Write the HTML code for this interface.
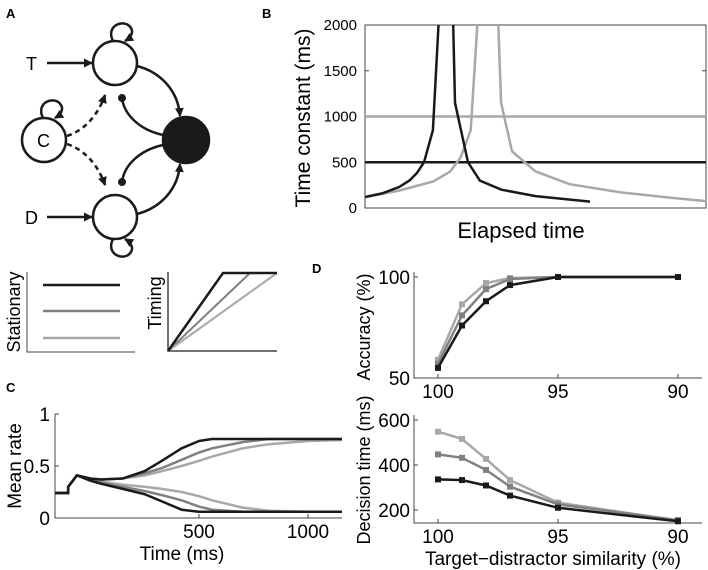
<!DOCTYPE html>
<html><head><meta charset="utf-8"><style>
html,body{margin:0;padding:0;background:#fff;}
svg{display:block;font-family:"Liberation Sans",sans-serif;}
</style></head><body>
<svg id="fig" width="708" height="570" viewBox="0 0 708 570">
<defs>
<marker id="ah" markerWidth="9" markerHeight="9" refX="8" refY="4.5" orient="auto" markerUnits="userSpaceOnUse"><path d="M0,0 L9,4.5 L0,9 Z" fill="#1a1a1a"/></marker>
<marker id="dot" markerWidth="9" markerHeight="9" refX="4.5" refY="4.5" orient="auto" markerUnits="userSpaceOnUse"><circle cx="4.5" cy="4.5" r="4" fill="#1a1a1a"/></marker>
<clipPath id="clipB"><rect x="365" y="25" width="341" height="183"/></clipPath>
</defs>
<text x="6" y="18" font-size="13" font-weight="bold">A</text>
<text x="262" y="18" font-size="13" font-weight="bold">B</text>
<text x="6" y="392" font-size="13" font-weight="bold">C</text>
<text x="312" y="273" font-size="13" font-weight="bold">D</text>

<g stroke="#1a1a1a" stroke-width="2.5" fill="none">
<circle cx="115" cy="63" r="22" fill="#fff"/>
<circle cx="115" cy="217" r="22" fill="#fff"/>
<circle cx="44" cy="140" r="22" fill="#fff"/>
<circle cx="186" cy="140" r="23" fill="#1a1a1a"/>
<path d="M113,41 C105,25 125,18 131,28 C134,33 130,38 125,41" marker-end="url(#ah)"/>
<path d="M113,239 C105,255 125,262 131,252 C134,247 130,242 125,239" marker-end="url(#ah)"/>
<path d="M43,118 C35,102 55,95 61,105 C64,110 60,115 55,118" marker-end="url(#ah)"/>
<line x1="47" y1="63" x2="92" y2="63" marker-end="url(#ah)"/>
<line x1="47" y1="217" x2="92" y2="217" marker-end="url(#ah)"/>
<path d="M137,66 C160,72 178,90 180,116" marker-end="url(#ah)"/>
<path d="M137,214 C160,208 178,190 180,164" marker-end="url(#ah)"/>
<path d="M163,135 C140,130 124,115 122,98" marker-end="url(#dot)"/>
<path d="M163,145 C140,150 124,165 122,182" marker-end="url(#dot)"/>
<path d="M67,136 C85,130 98,115 105,95" stroke-dasharray="5,4" marker-end="url(#ah)"/>
<path d="M67,144 C85,150 98,165 105,185" stroke-dasharray="5,4" marker-end="url(#ah)"/>
</g>
<text x="26" y="70" font-size="18">T</text>
<text x="25" y="224" font-size="18">D</text>
<text x="37" y="147" font-size="18">C</text>

<g>
<polyline points="27,272 27,352 135,352" fill="none" stroke="#444" stroke-width="1"/>
<line x1="43" y1="285" x2="120" y2="285" stroke="#1a1a1a" stroke-width="2.5"/>
<line x1="43" y1="311" x2="120" y2="311" stroke="#808080" stroke-width="2.5"/>
<line x1="43" y1="338" x2="120" y2="338" stroke="#a8a8a8" stroke-width="2.5"/>
<text transform="translate(20,312) rotate(-90)" text-anchor="middle" font-size="18">Stationary</text>
</g>
<g>
<polyline points="168,272 168,351 277,351" fill="none" stroke="#444" stroke-width="1.5"/>
<polyline points="168,351 250,273 277,273" fill="none" stroke="#808080" stroke-width="2"/>
<polyline points="168,351 277,273" fill="none" stroke="#a8a8a8" stroke-width="2"/>
<polyline points="168,351 223,273 277,273" fill="none" stroke="#1a1a1a" stroke-width="2.5"/>
<text transform="translate(161,303) rotate(-90)" text-anchor="middle" font-size="18">Timing</text>
</g>

<g id="panelB"></g>
<g id="panelC"></g>
<g id="panelD"></g>
<g id="panelE"></g>
</svg>
<script>
// ---- Panel B data ----
const bTicks = [0, 500, 1000, 1500, 2000];
const bBlackT = [0, 5, 10, 13, 15.2, 17.3, 19.9, 21.7, 25.8, 26.4, 30.2, 33.7, 40, 50, 66];
const bBlackV = [120, 160, 230, 300, 380, 500, 850, 2100, 2100, 1150, 500, 300, 200, 130, 70];
const bGrayT = [0, 10, 20, 25, 28, 31, 33.1, 39, 39.9, 43.1, 50, 60, 75, 90, 100];
const bGrayV = [120, 190, 290, 400, 550, 850, 2100, 2100, 1150, 620, 400, 260, 170, 110, 75];
const bRefLevels = [1000, 500];
// ---- Panel C data ----
const cTimes = [-160, -100, -100, -60, 0, 50, 150, 250, 330, 420, 500, 560, 700, 820, 1000, 1156];
const cUpBlack = [0.24, 0.24, 0.3, 0.41, 0.38, 0.37, 0.38, 0.45, 0.55, 0.67, 0.74, 0.76, 0.76, 0.76, 0.76, 0.76];
const cUpMid = [0.24, 0.24, 0.3, 0.41, 0.38, 0.37, 0.38, 0.43, 0.48, 0.56, 0.63, 0.67, 0.73, 0.76, 0.76, 0.76];
const cUpLight = [0.24, 0.24, 0.3, 0.41, 0.38, 0.37, 0.38, 0.41, 0.45, 0.5, 0.55, 0.59, 0.67, 0.71, 0.74, 0.75];
const cLowBlack = [0.24, 0.24, 0.3, 0.41, 0.36, 0.33, 0.28, 0.23, 0.16, 0.08, 0.06, 0.06, 0.06, 0.06, 0.06, 0.06];
const cLowMid = [0.24, 0.24, 0.3, 0.41, 0.37, 0.34, 0.3, 0.26, 0.22, 0.17, 0.11, 0.08, 0.06, 0.06, 0.06, 0.06];
const cLowLight = [0.24, 0.24, 0.3, 0.41, 0.37, 0.35, 0.32, 0.3, 0.28, 0.25, 0.21, 0.17, 0.1, 0.07, 0.06, 0.06];
const cXTicks = [500, 1000];
const cYTicks = [0, 0.5, 1];
const cYTickLabels = ["0", "0.5", "1"];
// ---- Panel D data ----
const dSim = [100, 99, 98, 97, 95, 90];
const accLight = [59, 86.5, 97, 99.5, 100, 100];
const accMid = [57, 81, 94, 99, 100, 100];
const accBlack = [55, 76, 88, 96, 100, 100];
const dtLight = [548, 516, 427, 333, 233, 153];
const dtMid = [447, 432, 378, 304, 225, 155];
const dtBlack = [336, 333, 309, 264, 210, 150];
const dXTicks = [100, 95, 90];
const accTicks = [50, 100];
const dtTicks = [200, 400, 600];

const NS = "http://www.w3.org/2000/svg";
function mk(parent, tag, attrs, text) {
  const e = document.createElementNS(NS, tag);
  for (const k in attrs) e.setAttribute(k, attrs[k]);
  if (text !== undefined) e.textContent = text;
  parent.appendChild(e);
  return e;
}
function pathFrom(xs, ys, sx, sy) {
  return xs.map((x, i) => (i ? "L" : "M") + sx(x).toFixed(1) + "," + sy(ys[i]).toFixed(1)).join(" ");
}
const BLACK = "#1a1a1a", MID = "#808080", LIGHT = "#a8a8a8";

(function () {
  const g = document.getElementById("panelB");
  const sx = t => 365 + t * 3.41, sy = v => 208 - v * 183 / 2000;
  const r = mk(g, "rect", {x: 365, y: 25, width: 341, height: 183, fill: "none", stroke: "#444", "stroke-width": 1});
  
  
  bTicks.forEach(v => {
    mk(g, "line", {x1: 365, x2: 369, y1: sy(v), y2: sy(v), stroke: "#444"});
    mk(g, "line", {x1: 702, x2: 706, y1: sy(v), y2: sy(v), stroke: "#444"});
    const t = mk(g, "text", {x: 357, y: sy(v) + 5, "text-anchor": "end", "font-size": 15}, String(v));
    
    
  });
  const colors = [LIGHT, BLACK];
  bRefLevels.forEach((v, i) => {
    const l = mk(g, "line", {x1: 365, x2: 706, y1: sy(v), y2: sy(v), stroke: colors[i], "stroke-width": 2.5});
    
    
  });
  const cg = mk(g, "g", {"clip-path": "url(#clipB)"});
  const p1 = mk(cg, "path", {d: pathFrom(bGrayT, bGrayV, sx, sy), fill: "none", stroke: LIGHT, "stroke-width": 2.5});
  
  
  const p2 = mk(cg, "path", {d: pathFrom(bBlackT, bBlackV, sx, sy), fill: "none", stroke: BLACK, "stroke-width": 2.5});
  
  
  const yl = mk(g, "text", {transform: "translate(310,118) rotate(-90)", "text-anchor": "middle", "font-size": 21}, "Time constant (ms)");
  
  
  const xl = mk(g, "text", {x: 521, y: 238, "text-anchor": "middle", "font-size": 22}, "Elapsed time");
  
  
})();

(function () {
  const g = document.getElementById("panelC");
  const sx = t => 199 + (t - 500) * 0.218, sy = v => 518 - v * 104;
  mk(g, "polyline", {points: "55,414 55,518 342,518", fill: "none", stroke: "#444", "stroke-width": 1});
  cYTicks.forEach((v, i) => {
    mk(g, "line", {x1: 55, x2: 59, y1: sy(v), y2: sy(v), stroke: "#444"});
    const t = mk(g, "text", {x: 50, y: sy(v) + 7, "text-anchor": "end", "font-size": 19}, cYTickLabels[i]);
    
    
  });
  cXTicks.forEach(v => {
    mk(g, "line", {x1: sx(v), x2: sx(v), y1: 518, y2: 514, stroke: "#444"});
    const t = mk(g, "text", {x: sx(v), y: 538, "text-anchor": "middle", "font-size": 19}, String(v));
    
    
  });
  const series = [[cUpLight, LIGHT], [cLowLight, LIGHT], [cUpMid, MID], [cLowMid, MID], [cUpBlack, BLACK], [cLowBlack, BLACK]];
  series.forEach(s => {
    const p = mk(g, "path", {d: pathFrom(cTimes, s[0], sx, sy), fill: "none", stroke: s[1], "stroke-width": 2.5, "stroke-linejoin": "round"});
    
    
  });
  const yl = mk(g, "text", {transform: "translate(21,466) rotate(-90)", "text-anchor": "middle", "font-size": 19}, "Mean rate");
  
  
  const xl = mk(g, "text", {x: 182, y: 560, "text-anchor": "middle", "font-size": 19}, "Time (ms)");
  
  
})();

function drawD(gid, ys3, ticks, sy, y0, y1, ylabel, ylx, yly) {
  const g = document.getElementById(gid);
  const sx = s => 438 + (100 - s) * 24;
  mk(g, "polyline", {points: "414," + y1 + " 414," + y0 + " 702," + y0, fill: "none", stroke: "#444", "stroke-width": 1});
  ticks.forEach(v => {
    mk(g, "line", {x1: 414, x2: 418, y1: sy(v), y2: sy(v), stroke: "#444"});
    const t = mk(g, "text", {x: 410, y: sy(v) + 7, "text-anchor": "end", "font-size": 19}, String(v));
    
    
  });
  dXTicks.forEach(v => {
    mk(g, "line", {x1: sx(v), x2: sx(v), y1: y0, y2: y0 - 4, stroke: "#444"});
    const t = mk(g, "text", {x: sx(v), y: y0 + 20, "text-anchor": "middle", "font-size": 19}, String(v));
    
    
  });
  ys3.forEach(s => {
    const p = mk(g, "path", {d: pathFrom(dSim, s[0], sx, sy), fill: "none", stroke: s[1], "stroke-width": 2.5});
    
    
    dSim.forEach((x, i) => {
      const m = mk(g, "rect", {x: sx(x) - 3, y: sy(s[0][i]) - 3, width: 6, height: 6, fill: s[1]});
      
      
    });
  });
  const yl = mk(g, "text", {transform: "translate(" + ylx + "," + yly + ") rotate(-90)", "text-anchor": "middle", "font-size": 18}, ylabel);
  
  
}
drawD("panelD", [[accLight, LIGHT], [accMid, MID], [accBlack, BLACK]], accTicks, v => 378 - (v - 50) * 2.02, 378, 272, "Accuracy (%)", 370, 327);
drawD("panelE", [[dtLight, LIGHT], [dtMid, MID], [dtBlack, BLACK]], dtTicks, v => 510 - (v - 200) * 0.225, 523, 415, "Decision time (ms)", 370, 470);
(function () {
  const g = document.getElementById("panelE");
  const t = mk(g, "text", {x: 553, y: 565, "text-anchor": "middle", "font-size": 19}, "Target\u2212distractor similarity (%)");
  
  
})();
</script>
</body></html>
